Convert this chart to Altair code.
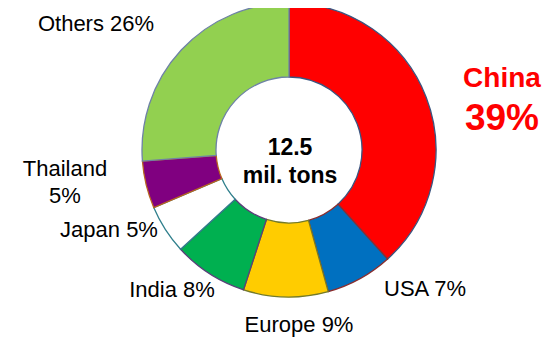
import altair as alt
import pandas as pd

# --- data ---
regions = ["China", "USA", "Europe", "India", "Japan", "Thailand", "Others"]
shares = [38.3, 7.4, 9.3, 8.2, 5.4, 5.2, 26.2]          # measured slice shares (%)
label_pct = ["39%", "7%", "9%", "8%", "5%", "5%", "26%"]  # printed labels
fills = ["#FF0000", "#0070C0", "#FFCC00", "#00B050", "#FFFFFF", "#800080", "#92D050"]
edges = ["#3A5580", "#8B2E2E", "#737A2A", "#5B3F7A", "#2F7F8C", "#B8651E", "#6E82A6"]
total_text = ["12.5", "mil. tons"]

df = pd.DataFrame({
    "region": regions,
    "share": shares,
    "order": list(range(len(regions))),
    "fill": fills,
    "edge": edges,
})

W, H = 537, 329
CX, CY = 281, 142
FONT = "Liberation Sans"

donut = alt.Chart(df).mark_arc(outerRadius=147, innerRadius=73, strokeWidth=1.3).encode(
    theta=alt.Theta("share:Q", stack=True),
    order=alt.Order("order:Q"),
    color=alt.Color("fill:N", scale=None),
    stroke=alt.Stroke("edge:N", scale=None),
    x=alt.value(CX),
    y=alt.value(CY),
)

# label layout (annotation positions, separate from the data)
layout = {
    "Others": [(88, 23, f"Others {label_pct[6]}")],
    "Thailand": [(57, 168, "Thailand"), (57, 195, label_pct[5])],
    "Japan": [(101, 229, f"Japan {label_pct[4]}")],
    "India": [(164, 289, f"India {label_pct[3]}")],
    "Europe": [(291, 324, f"Europe {label_pct[2]}")],
    "USA": [(417, 288, f"USA {label_pct[1]}")],
}

layers = [donut]
base_txt = alt.Chart(pd.DataFrame({"d": [0]}))
for key, items in layout.items():
    for (x, y, t) in items:
        layers.append(
            base_txt.mark_text(font=FONT, fontSize=22, align="center",
                               baseline="alphabetic", color="#000000", text=t)
            .encode(x=alt.value(x), y=alt.value(y))
        )

layers.append(
    base_txt.mark_text(font=FONT, fontSize=28, fontWeight="bold", align="center",
                       baseline="alphabetic", color="#FF0000", text=regions[0])
    .encode(x=alt.value(494), y=alt.value(79))
)
layers.append(
    base_txt.mark_text(font=FONT, fontSize=37, fontWeight="bold", align="center",
                       baseline="alphabetic", color="#FF0000", text=label_pct[0])
    .encode(x=alt.value(494), y=alt.value(122))
)
layers.append(
    base_txt.mark_text(font=FONT, fontSize=23, fontWeight="bold", align="center",
                       baseline="alphabetic", color="#000000", text=total_text[0])
    .encode(x=alt.value(282), y=alt.value(147))
)
layers.append(
    base_txt.mark_text(font=FONT, fontSize=23, fontWeight="bold", align="center",
                       baseline="alphabetic", color="#000000", text=total_text[1])
    .encode(x=alt.value(282), y=alt.value(175))
)

chart = alt.layer(*layers).properties(
    width=W, height=H, padding=0,
    autosize=alt.AutoSizeParams(type="none"),
).configure_view(stroke=None)

chart.save("out.html", embed_options={"renderer": "svg", "actions": False})
